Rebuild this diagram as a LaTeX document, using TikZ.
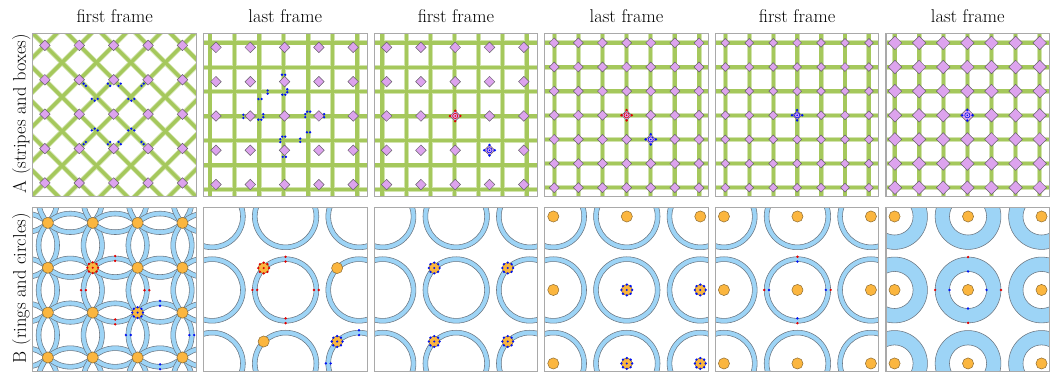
\documentclass[tikz,border=0pt]{standalone}
\usepackage{xcolor}
\usepackage{tikz}
\usetikzlibrary{calc}
\definecolor{stripegreen}{HTML}{A5C85C}
\definecolor{stripelight}{HTML}{D2E4AE}
\definecolor{diapink}{HTML}{DDA3EE}
\definecolor{diaedge}{HTML}{66606A}
\definecolor{ringblue}{HTML}{9DD4F6}
\definecolor{ringedge}{HTML}{6B7580}
\definecolor{coinorange}{HTML}{FBB63F}
\definecolor{coinedge}{HTML}{8C6B33}
\definecolor{framegray}{HTML}{A9A9A9}
\definecolor{markred}{HTML}{E00000}
\definecolor{markblue}{HTML}{0012F2}
% small drawing helpers (x y ...), panel-local coordinates
\newcommand{\diaat}[3]{\draw[diabox] (#1,#2) +(-#3,0) -- +(0,-#3) -- +(#3,0) -- +(0,#3) -- cycle;}
\newcommand{\coinat}[2]{\draw[coin] (#1,#2) circle[radius=5.6];}
\newcommand{\bandring}[4]{\draw[ringband] (#1,#2) circle[radius=#3] (#1,#2) circle[radius=#4];}
\newcommand{\mdot}[3]{\fill[#3] (#1,#2) circle[radius=1.3];}
\newcommand{\bpair}[4]{\fill[#4] (#1,#2) ++(#3:1.6) circle[radius=1.3];
  \fill[#4] (#1,#2) ++({#3+180}:1.6) circle[radius=1.3];}
\newcommand{\rimdot}[5]{\fill[#5] (#1,#2) ++(#3:#4) circle[radius=1.35];}
\newcommand{\coinmark}[3]{\coinat{#1}{#2}
  \foreach \a in {0,45,...,315}{\fill[#3] (#1,#2) ++(\a:5.4) circle[radius=1.3];}
  \fill[#3] (#1,#2) circle[radius=1.15];}
\newcommand{\diamark}[3]{\draw[#3,fill=diapink,line width=0.6pt] (#1,#2) circle[radius=2.6];
  \fill[#3] (#1,#2) circle[radius=0.9];
  \foreach \a in {0,90,180,270}{\fill[#3] (#1,#2) ++(\a:5.2) circle[radius=1.35];}}
\newcommand{\gridstripes}[4]{%
  \foreach \k in {0,...,6}{\draw[fringe] ({#1+#2*\k},-5) -- ++(0,175); \draw[fringe] (-5,{#3+#4*\k}) -- ++(175,0);}
  \foreach \k in {0,...,6}{\draw[stripe] ({#1+#2*\k},-5) -- ++(0,175); \draw[stripe] (-5,{#3+#4*\k}) -- ++(175,0);}}
\newcommand{\griddias}[5]{\foreach \i in {0,...,6}{\foreach \j in {0,...,6}{\diaat{#1+#2*\i}{#3+#4*\j}{#5}}}}
\newcommand{\panelclip}{\clip (0,0) rectangle (164,164);}
\newcommand{\panelbox}{\draw[panelframe] (0,0) rectangle (164,164);}

\begin{document}
\begin{tikzpicture}[x=1pt,y=-1pt,
  paneltitle/.style={anchor=base,font=\fontsize{18.5}{22}\selectfont},
  rowlabel/.style={rotate=90,anchor=base,font=\fontsize{18.5}{22}\selectfont},
  panelframe/.style={draw=framegray,line width=1.1pt},
  fringe/.style={draw=stripelight,line width=5pt},
  stripe/.style={draw=stripegreen,line width=3.4pt},
  diabox/.style={fill=diapink,draw=diaedge,line width=0.5pt},
  ringband/.style={fill=ringblue,draw=ringedge,line width=0.55pt,even odd rule},
  coin/.style={fill=coinorange,draw=coinedge,line width=0.5pt}
]
\useasboundingbox (0,0) rectangle (1053,375);

\foreach \lbl [count=\c] in {first frame,last frame,first frame,last frame,first frame,last frame}
  \node[paneltitle] (title\c) at ({33+171.1*(\c-1)+82},22.7) {\lbl};
\node[rowlabel] (rowA) at (26,114) {A (stripes and boxes)};
\node[rowlabel] (rowB) at (26,289) {B (rings and circles)};

% row A, first frame
\begin{scope}[shift={(33,33.5)}]
\begin{scope}
\panelclip
\foreach \m in {-5,...,5}{\draw[fringe] ({34.5*\m-20},-20) -- ({34.5*\m+190},190);}
\foreach \n in {0,...,10}{\draw[fringe] ({34.5*\n+9.5},-20) -- ({34.5*\n-200.5},190);}
\foreach \m in {-5,...,5}{\draw[stripe] ({34.5*\m-20},-20) -- ({34.5*\m+190},190);}
\foreach \n in {0,...,10}{\draw[stripe] ({34.5*\n+9.5},-20) -- ({34.5*\n-200.5},190);}
\foreach \i in {0,...,4}{\foreach \j in {0,...,4}{\diaat{12+34.5*\i}{12+34.5*\j}{5.3}}}
\bpair{52}{51.5}{45}{markblue} \bpair{76.3}{51.5}{45}{markblue}
\bpair{87}{51.5}{-45}{markblue} \bpair{110}{51.5}{-45}{markblue}
\bpair{52}{110}{-45}{markblue} \bpair{76.3}{110}{-45}{markblue}
\bpair{87}{110}{45}{markblue} \bpair{110}{110}{45}{markblue}
\foreach \cx in {62,98.7}{\mdot{\cx-3}{65.7}{markblue} \mdot{\cx}{67.5}{markblue} \mdot{\cx+3}{65.7}{markblue}
  \mdot{\cx-3}{97.3}{markblue} \mdot{\cx}{95.5}{markblue} \mdot{\cx+3}{97.3}{markblue}}
\end{scope}
\panelbox
\end{scope}

% row A, last frame
\begin{scope}[shift={(204.1,33.5)}]
\begin{scope}
\panelclip
\gridstripes{6.5}{24.6}{9.5}{24.5}
\foreach \i in {0,...,4}{\foreach \j in {0,...,4}{\diaat{12.5+34.4*\i}{14+34.4*\j}{5.3}}}
\bpair{80.3}{41.5}{0}{markblue}
\mdot{84}{56}{markblue} \mdot{84}{59}{markblue} \mdot{82}{61.5}{markblue} \mdot{79}{61.5}{markblue}
\bpair{64.3}{58.8}{90}{markblue}
\bpair{56.7}{65.8}{0}{markblue}
\bpair{40}{83.2}{90}{markblue}
\mdot{60}{81}{markblue} \mdot{60}{84}{markblue} \mdot{58}{86.5}{markblue} \mdot{55}{86.5}{markblue}
\mdot{107}{78.5}{markblue} \mdot{104}{78.5}{markblue} \mdot{102}{81}{markblue} \mdot{102}{84}{markblue}
\bpair{121}{82.5}{90}{markblue}
\bpair{105.3}{99.2}{0}{markblue}
\bpair{97}{107.2}{90}{markblue}
\mdot{82}{103.5}{markblue} \mdot{79}{103.5}{markblue} \mdot{77}{106}{markblue} \mdot{77}{109}{markblue}
\bpair{81}{123.8}{0}{markblue}
\end{scope}
\panelbox
\end{scope}

% row A, first frame
\begin{scope}[shift={(375.2,33.5)}]
\begin{scope}
\panelclip
\gridstripes{8}{24.2}{9.5}{24.5}
\foreach \i in {0,...,4}{\foreach \j in {0,...,4}{\diaat{12.5+34.4*\i}{14+34.4*\j}{5.3}}}
\diamark{81.3}{82.8}{markred}
\diamark{115.7}{117.2}{markblue}
\end{scope}
\panelbox
\end{scope}

% row A, last frame
\begin{scope}[shift={(546.3,33.5)}]
\begin{scope}
\panelclip
\gridstripes{9.5}{24.2}{9.5}{24.2}
\griddias{9.5}{24.2}{9.5}{24.2}{5}
\diamark{82.1}{82.1}{markred}
\diamark{106.3}{106.3}{markblue}
\end{scope}
\panelbox
\end{scope}

% row A, first frame
\begin{scope}[shift={(717.4,33.5)}]
\begin{scope}
\panelclip
\gridstripes{10}{24}{9.5}{24.2}
\griddias{10}{24}{9.5}{24.2}{4.4}
\diamark{82}{82.1}{markblue}
\end{scope}
\panelbox
\end{scope}

% row A, last frame
\begin{scope}[shift={(888.5,33.5)}]
\begin{scope}
\panelclip
\gridstripes{9}{24.2}{9.5}{24.2}
\griddias{9}{24.2}{9.5}{24.2}{6.8}
\diamark{81.6}{82.1}{markblue}
\end{scope}
\panelbox
\end{scope}

% row B, first frame
\begin{scope}[shift={(33,208.5)}]
\begin{scope}
\panelclip
\foreach \i in {0,...,4}{\foreach \j in {0,...,4}{\bandring{-7.5+45*\i}{-7.5+45*\j}{34.2}{29.4}}}
\foreach \i in {0,...,3}{\foreach \j in {0,...,3}{\coinat{15+45*\i}{15+45*\j}}}
\coinmark{60}{60}{markred}
\coinmark{105}{105}{markblue}
\foreach \a in {0,90,180,270}{\rimdot{82.5}{82.5}{\a}{29.4}{markred} \rimdot{82.5}{82.5}{\a}{34.2}{markred}
  \rimdot{127.5}{127.5}{\a}{29.4}{markblue} \rimdot{127.5}{127.5}{\a}{34.2}{markblue}}
\end{scope}
\panelbox
\end{scope}

% row B, last frame
\begin{scope}[shift={(204.1,208.5)}]
\begin{scope}
\panelclip
\foreach \cx in {8.6,82.3,156}{\foreach \cy in {8.6,82.3,156}{\bandring{\cx}{\cy}{33.3}{28.5}}}
\coinmark{60.3}{60.3}{markred}
\foreach \a in {0,90,180,270}{\rimdot{82.3}{82.3}{\a}{28.5}{markred} \rimdot{82.3}{82.3}{\a}{33.3}{markred}}
\coinat{134}{60.3}
\coinat{60.3}{134}
\coinmark{134}{134}{markblue}
\foreach \a in {180,270}{\rimdot{156}{156}{\a}{28.5}{markblue} \rimdot{156}{156}{\a}{33.3}{markblue}}
\end{scope}
\panelbox
\end{scope}

% row B, first frame
\begin{scope}[shift={(375.2,208.5)}]
\begin{scope}
\panelclip
\foreach \cx in {8.6,82.3,156}{\foreach \cy in {8.6,82.3,156}{\bandring{\cx}{\cy}{33.3}{28.5}}}
\foreach \cx in {60.3,134}{\foreach \cy in {60.3,134}{\coinmark{\cx}{\cy}{markblue}}}
\end{scope}
\panelbox
\end{scope}

% row B, last frame
\begin{scope}[shift={(546.3,208.5)}]
\begin{scope}
\panelclip
\foreach \cx in {8.6,82.3,156}{\foreach \cy in {8.6,82.3,156}{\bandring{\cx}{\cy}{33.3}{28.5}}}
\coinat{8.6}{8.6} \coinat{82.3}{8.6} \coinat{156}{8.6} \coinat{8.6}{82.3} \coinat{8.6}{156}
\foreach \cx in {82.3,156}{\foreach \cy in {82.3,156}{\coinmark{\cx}{\cy}{markblue}}}
\end{scope}
\panelbox
\end{scope}

% row B, first frame
\begin{scope}[shift={(717.4,208.5)}]
\begin{scope}
\panelclip
\foreach \cx in {8.6,82.3,156}{\foreach \cy in {8.6,82.3,156}{\bandring{\cx}{\cy}{33.3}{28.5} \coinat{\cx}{\cy}}}
\foreach \a in {0,90,180,270}{\rimdot{82.3}{82.3}{\a}{33.3}{markred} \rimdot{82.3}{82.3}{\a}{28.5}{markblue}}
\end{scope}
\panelbox
\end{scope}

% row B, last frame
\begin{scope}[shift={(888.5,208.5)}]
\begin{scope}
\panelclip
\foreach \cx in {8.6,82.3,156}{\foreach \cy in {8.6,82.3,156}{\bandring{\cx}{\cy}{33}{18.6} \coinat{\cx}{\cy}}}
\foreach \a in {0,90,180,270}{\rimdot{82.3}{82.3}{\a}{33}{markred} \rimdot{82.3}{82.3}{\a}{18.6}{markblue}}
\end{scope}
\panelbox
\end{scope}
\end{tikzpicture}
\end{document}
